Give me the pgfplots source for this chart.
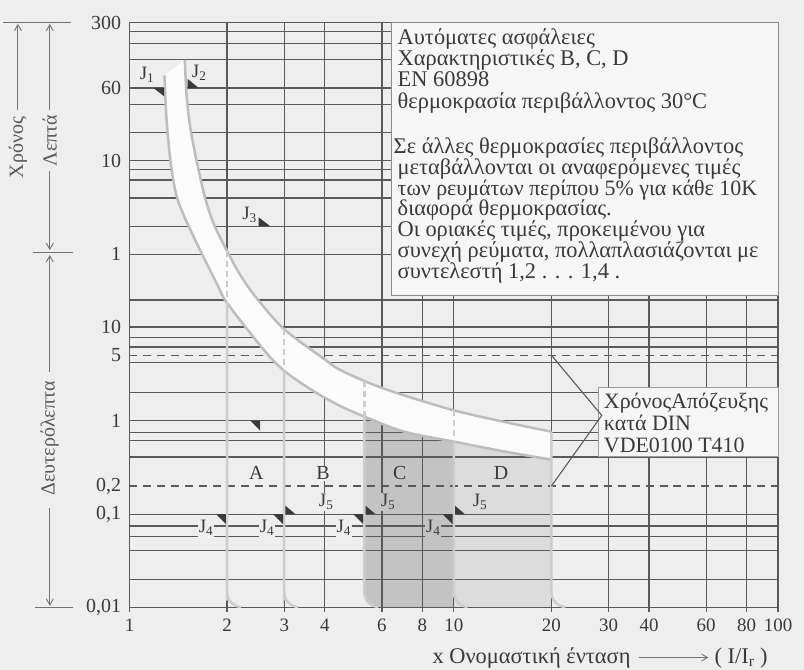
\documentclass[border=0pt]{standalone}
\usepackage{fontspec}
\setmainfont{Liberation Serif}
\usepackage{pgfplots}
\pgfplotsset{compat=1.18}
\usepgfplotslibrary{fillbetween}
\usetikzlibrary{arrows.meta}

\definecolor{bg}{HTML}{EEEEEE}
\definecolor{gridc}{HTML}{5A5A5A}
\definecolor{txt}{HTML}{3A3A3A}
\definecolor{band}{HTML}{FBFBFB}
\definecolor{edge}{HTML}{BDBDBD}
\definecolor{bound}{HTML}{CDCDCD}
\definecolor{regC}{HTML}{C3C3C3}
\definecolor{regD}{HTML}{DCDCDC}
\definecolor{boxbg}{HTML}{F6F6F6}

\newcommand\fs{\fontsize{22.5bp}{22.5bp}\selectfont}
\newcommand\ft{\fontsize{20bp}{20bp}\selectfont}
\newcommand\fk{\fontsize{19bp}{19bp}\selectfont}
\newcommand\fj{\fontsize{19bp}{19bp}\selectfont}

\begin{document}
\pagecolor{bg}
\begin{tikzpicture}[font=\fs, text=txt,
  tri/.style={fill=txt, draw=none},
  bt/.style={anchor=base west, inner sep=0pt, text height=15bp, text depth=4bp},
  arr/.style={gridc!85, line width=0.9bp, -{Straight Barb[length=6bp,width=7bp]}}]
\path (0,0) rectangle (804bp,672bp);
\begin{axis}[
  set layers,
  at={(127bp,62bp)}, anchor=south west,
  scale only axis, width=651bp, height=587.3bp,
  xmode=log, ymode=log,
  xmin=1, xmax=100, ymin=0.01, ymax=18000,
  xtick={1,2,3,4,6,8,10,20,30,40,60,80,100},
  xticklabels={1,2,3,4,6,8,10,20,30,40,60,80,100},
  ytick={0.01,0.1,1,10,60,600,3600,18000},
  yticklabels={{0,01},{0,1},1,10,1,10,60,300},
  extra y ticks={0.2,5},
  extra y tick labels={{0,2},5},
  extra y tick style={grid=major, major grid style={gridc, line width=1.3bp, dash pattern=on 8bp off 6bp}},
  minor ytick={14400,10800,7200,2400,1200,480,375,240,120,19.5,7.78,6.15,4.22,2,0.753,0.609,0.41,0.075,0.0576,0.041,0.02},
  xmajorgrids, ymajorgrids, yminorgrids, xminorgrids=false,
  major grid style={gridc, line width=1.3bp},
  minor grid style={gridc, line width=1.3bp},
  xtick pos=bottom, xtick align=outside,
  major tick length=4bp, minor tick length=0pt,
  xtick style={draw=gridc, line width=1.3bp},
  ytick style={draw=none},
  axis line style={gridc, line width=1.4bp},
  tick label style={font=\fk, text=txt},
  xticklabel style={yshift=-4bp},
  yticklabel style={xshift=-5bp, font=\ft},
]
% instantaneous trip regions C and D
\addplot[draw=none, fill=regC, on layer=axis background] coordinates {
  (5.3,1.105) (5.3,0.0145) (5.369,0.0122) (5.565,0.01076) (5.846,0.0101) (5.846,0.01)
  (10,0.01) (10,0.597) (7.04,0.762)} -- cycle;
\addplot[draw=none, fill=regD, on layer=axis background] coordinates {
  (10,0.597) (10,0.01) (20,0.01) (20,0.383) (14.28,0.469)} -- cycle;

% tripping band J1 (lower) and J2 (upper)
\addplot[name path=J1, edge, line width=2.5bp, smooth, tension=0.55] coordinates {
  (1.283,4920) (1.288,3120) (1.304,1480) (1.334,645) (1.366,362) (1.414,220)
  (1.517,123) (1.703,53.4) (1.870,28.0) (2,18.1) (2.588,5.78) (3,3.41)
  (3.668,2.10) (4.42,1.46) (5.3,1.105) (7.04,0.762) (10,0.597) (14.28,0.469) (20,0.383)};
\addplot[name path=J2, edge, line width=2.5bp, smooth, tension=0.55] coordinates {
  (1.481,7200) (1.499,3120) (1.534,1480) (1.588,762) (1.645,427) (1.723,220)
  (1.826,123) (2,65) (2.199,35.7) (2.472,20.2) (3,9.5) (3.934,4.71)
  (4.42,3.55) (5.3,2.65) (5.84,2.32) (7.04,1.86) (10,1.29) (14.28,0.971) (20,0.762)};
\addplot[band] fill between[of=J1 and J2];

% region boundaries A, B, C, D
\addplot[bound, line width=2.5bp, dash pattern=on 6bp off 4bp] coordinates {(2,65) (2,18.1)};
\addplot[bound, line width=2.5bp, smooth, tension=0.5] coordinates {(2,18.1) (2,0.02) (2,0.0145) (2.026,0.0122) (2.1,0.01076) (2.206,0.0101)};
\addplot[bound, line width=2.5bp, dash pattern=on 6bp off 4bp] coordinates {(3,9.5) (3,3.41)};
\addplot[bound, line width=2.5bp, smooth, tension=0.5] coordinates {(3,3.41) (3,0.02) (3,0.0145) (3.039,0.0122) (3.15,0.01076) (3.309,0.0101)};
\addplot[bound, line width=2.5bp, dash pattern=on 6bp off 4bp] coordinates {(5.3,2.65) (5.3,1.105)};
\addplot[bound, line width=2.5bp, smooth, tension=0.5] coordinates {(5.3,1.105) (5.3,0.02) (5.3,0.0145) (5.369,0.0122) (5.565,0.01076) (5.846,0.0101)};
\addplot[bound, line width=2.5bp, dash pattern=on 6bp off 4bp] coordinates {(10,1.29) (10,0.597)};
\addplot[bound, line width=2.5bp, smooth, tension=0.5] coordinates {(10,0.597) (10,0.02) (10,0.0145) (10.13,0.0122) (10.5,0.01076) (11.03,0.0101)};
\addplot[bound, line width=2.5bp, smooth, tension=0.5] coordinates {(20,0.762) (20,0.02) (20,0.0145) (20.26,0.0122) (21,0.01076) (22.06,0.0101)};

% markers J1..J5
\fill[tri] ([xshift=-11.6bp]axis cs:1.287,3600) -- ([xshift=-1bp]axis cs:1.287,3600) -- ([xshift=-1bp,yshift=-8.3bp]axis cs:1.287,3600) -- cycle;
\node[font=\fj] at ([xshift=-18bp,yshift=13bp]axis cs:1.287,3600) {J\textsubscript{1}};
\fill[tri] ([xshift=1.5bp]axis cs:1.496,3600) -- ([xshift=1.5bp,yshift=9bp]axis cs:1.496,3600) -- ([xshift=12.5bp]axis cs:1.496,3600) -- cycle;
\node[font=\fj] at ([xshift=13bp,yshift=15bp]axis cs:1.496,3600) {J\textsubscript{2}};
\fill[tri] (axis cs:2.499,120) -- ([yshift=9bp]axis cs:2.499,120) -- ([xshift=11.7bp]axis cs:2.499,120) -- cycle;
\node[font=\fj] at ([xshift=-9bp,yshift=11bp]axis cs:2.499,120) {J\textsubscript{3}};
\fill[tri] ([xshift=-10bp]axis cs:2.53,1) -- (axis cs:2.53,1) -- ([yshift=-10bp]axis cs:2.53,1) -- cycle;

\fill[tri] ([xshift=-11.2bp]axis cs:2,0.1) -- ([xshift=-1.2bp]axis cs:2,0.1) -- ([xshift=-1.2bp,yshift=-10bp]axis cs:2,0.1) -- cycle;
\fill[tri] ([xshift=-11.2bp]axis cs:3,0.1) -- ([xshift=-1.2bp]axis cs:3,0.1) -- ([xshift=-1.2bp,yshift=-10bp]axis cs:3,0.1) -- cycle;
\fill[tri] ([xshift=-11.2bp]axis cs:5.3,0.1) -- ([xshift=-1.2bp]axis cs:5.3,0.1) -- ([xshift=-1.2bp,yshift=-10bp]axis cs:5.3,0.1) -- cycle;
\fill[tri] ([xshift=-11.2bp]axis cs:10,0.1) -- ([xshift=-1.2bp]axis cs:10,0.1) -- ([xshift=-1.2bp,yshift=-10bp]axis cs:10,0.1) -- cycle;
\fill[tri] ([xshift=1.2bp]axis cs:3,0.1) -- ([xshift=1.2bp,yshift=8.5bp]axis cs:3,0.1) -- ([xshift=11.2bp]axis cs:3,0.1) -- cycle;
\fill[tri] ([xshift=1.2bp]axis cs:5.3,0.1) -- ([xshift=1.2bp,yshift=8.5bp]axis cs:5.3,0.1) -- ([xshift=11.2bp]axis cs:5.3,0.1) -- cycle;
\fill[tri] ([xshift=1.2bp]axis cs:10,0.1) -- ([xshift=1.2bp,yshift=8.5bp]axis cs:10,0.1) -- ([xshift=11.2bp]axis cs:10,0.1) -- cycle;

\node[font=\fj, fill=bg, inner sep=1bp] at ([yshift=-2bp]axis cs:1.723,0.075) {J\textsubscript{4}};
\node[font=\fj, fill=bg, inner sep=1bp] at ([yshift=-2bp]axis cs:2.656,0.075) {J\textsubscript{4}};
\node[font=\fj, fill=bg, inner sep=1bp] at ([yshift=-2bp]axis cs:4.58,0.075) {J\textsubscript{4}};
\node[font=\fj, fill=regC, inner sep=1bp] at ([yshift=-2bp]axis cs:8.64,0.075) {J\textsubscript{4}};
\node[font=\fj, fill=bg, inner sep=1bp] at ([yshift=12bp]axis cs:4.04,0.1) {J\textsubscript{5}};
\node[font=\fj, fill=regC, inner sep=1bp] at ([yshift=12bp]axis cs:6.27,0.1) {J\textsubscript{5}};
\node[font=\fj, inner sep=1bp] at ([yshift=12bp]axis cs:12.05,0.1) {J\textsubscript{5}};

\node[font=\ft] at ([yshift=13bp]axis cs:2.46,0.2) {A};
\node[font=\ft, fill=bg, inner sep=1bp] at ([yshift=13bp]axis cs:3.95,0.2) {B};
\node[font=\ft] at ([yshift=13bp]axis cs:6.81,0.2) {C};
\node[font=\ft] at ([yshift=13bp]axis cs:14.0,0.2) {D};

\coordinate (p5) at (axis cs:20,5);
\coordinate (p02) at (axis cs:20,0.2);
\end{axis}

\begin{scope}[x=1bp, y=-1bp, yshift=672bp]
  % note box
  \filldraw[fill=boxbg, draw=gridc!70, line width=0.8bp] (390,22.7) rectangle (778,297);
  \node[bt] at (396,45) {Αυτόματες ασφάλειες};
  \node[bt] at (396,65.7) {Χαρακτηριστικές B, C, D};
  \node[bt] at (396,87.3) {EN 60898};
  \node[bt] at (396,109) {θερμοκρασία περιβάλλοντος 30°C};
  \node[bt] at (392,154) {Σε άλλες θερμοκρασίες περιβάλλοντος};
  \node[bt] at (396,175) {μεταβάλλονται οι αναφερόμενες τιμές};
  \node[bt, font=\fontsize{22bp}{22bp}\selectfont] at (396,196) {των ρευμάτων περίπου 5\% για κάθε 10K};
  \node[bt] at (396,216.7) {διαφορά θερμοκρασίας.};
  \node[bt] at (396,237.3) {Οι οριακές τιμές, προκειμένου για};
  \node[bt] at (396,258.3) {συνεχή ρεύματα, πολλαπλασιάζονται με};
  \node[bt] at (396,280) {συντελεστή 1,2 . . . 1,4 .};

  % DIN box
  \filldraw[fill=boxbg, draw=gridc!60, line width=0.8bp] (598,389) rectangle (778,458);
  \begin{scope}[font=\fontsize{22bp}{22bp}\selectfont]
  \node[bt] at (603,410) {ΧρόνοςΑπόζευξης};
  \node[bt] at (603,432.5) {κατά DIN};
  \node[bt] at (603,454) {VDE0100 T410};
  \end{scope}
  \draw[gridc, line width=1.1bp] (p5) -- (601,417) -- (p02);

  % left scale description
  \draw[gridc!85, line width=1bp] (0,22.7) -- (68,22.7);
  \draw[gridc!85, line width=1bp] (30,253) -- (70,253);
  \draw[gridc!85, line width=1bp] (32,610) -- (70,610);
  \draw[arr] (15,110) -- (15,24);
  \node[font=\ft, rotate=90, text=txt!85] at (15,148) {Χρόνος};
  \draw[arr] (47,110) -- (47,24);
  \node[font=\ft, rotate=90, text=txt!85] at (47,141) {Λεπτά};
  \draw[arr] (47,172) -- (47,251);
  \draw[arr] (47,373) -- (47,256);
  \node[font=\ft, rotate=90, text=txt!85] at (47,440) {Δευτερόλεπτα};
  \draw[arr] (47,510) -- (47,608);

  % x description
  \node[bt] at (431,666) {x Ονομαστική ένταση};
  \draw[arr] (638,660) -- (708,660);
  \node[bt] at (714,666) {( I/I\textsubscript{r} )};
\end{scope}
\end{tikzpicture}
\end{document}
